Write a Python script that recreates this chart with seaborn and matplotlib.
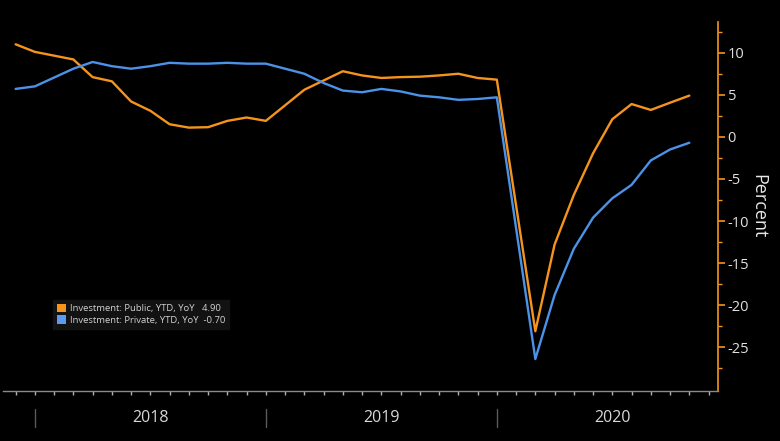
import matplotlib
matplotlib.use("Agg")
import matplotlib.pyplot as plt
import matplotlib.transforms as mtransforms
from matplotlib.patches import Patch
import seaborn as sns
import pandas as pd
import numpy as np

# ---- data (YTD YoY, %) ----
dates = ["2017-11", "2017-12",
         "2018-02", "2018-03", "2018-04", "2018-05", "2018-06", "2018-07",
         "2018-08", "2018-09", "2018-10", "2018-11", "2018-12",
         "2019-02", "2019-03", "2019-04", "2019-05", "2019-06", "2019-07",
         "2019-08", "2019-09", "2019-10", "2019-11", "2019-12",
         "2020-02", "2020-03", "2020-04", "2020-05", "2020-06", "2020-07",
         "2020-08", "2020-09", "2020-10"]
public = [11.0, 10.1,
          9.2, 7.1, 6.6, 4.2, 3.1, 1.5, 1.1, 1.15, 1.9, 2.3, 1.9,
          5.6, 6.7, 7.8, 7.3, 7.0, 7.1, 7.15, 7.3, 7.5, 7.0, 6.8,
          -23.1, -12.8, -6.9, -1.95, 2.1, 3.9, 3.2, 4.06, 4.9]
private = [5.7, 6.0,
           8.1, 8.9, 8.4, 8.1, 8.4, 8.8, 8.7, 8.7, 8.8, 8.7, 8.7,
           7.5, 6.4, 5.5, 5.3, 5.7, 5.4, 4.9, 4.7, 4.4, 4.5, 4.7,
           -26.4, -18.8, -13.3, -9.6, -7.3, -5.7, -2.8, -1.5, -0.7]
series_names = ["Investment: Public, YTD, YoY", "Investment: Private, YTD, YoY"]
last_values = ["4.90", "-0.70"]
years = ["2018", "2019", "2020"]
y_ticks = [-25, -20, -15, -10, -5, 0, 5, 10]

ORANGE = "#f5941d"
BLUE = "#4b92e8"

dt = pd.to_datetime(dates)
t = (dt.year - 2017) * 12 + dt.month - 12  # months since end of Dec 2017

df = pd.concat([
    pd.DataFrame({"t": t, "value": public, "series": series_names[0]}),
    pd.DataFrame({"t": t, "value": private, "series": series_names[1]}),
])

sns.set_theme(style="dark")
plt.rcParams["font.family"] = ["Open Sans", "DejaVu Sans"]
plt.rcParams["axes.unicode_minus"] = False

fig = plt.figure(figsize=(7.8, 4.41), dpi=100, facecolor="black")
ax = fig.add_axes([3.3 / 780, 1 - 391 / 441, (718 - 3.3) / 780, (391 - 22) / 441])
ax.set_facecolor("black")

sns.lineplot(data=df, x="t", y="value", hue="series",
             palette=[ORANGE, BLUE], linewidth=1.7, ax=ax, legend=False,
             sort=False, estimator=None)

ax.set_xlim(-1.64, 35.49)
ax.set_ylim(-30.2, 13.65)
ax.grid(False)

for s in ["left", "top"]:
    ax.spines[s].set_visible(False)
ax.spines["right"].set_visible(True)
ax.spines["right"].set_color(ORANGE)
ax.spines["right"].set_linewidth(1.2)
ax.spines["bottom"].set_visible(True)
ax.spines["bottom"].set_color("#8a8a8a")
ax.spines["bottom"].set_linewidth(1.0)

# y axis on the right
ax.yaxis.tick_right()
ax.yaxis.set_label_position("right")
ax.set_yticks(y_ticks)
ax.set_yticklabels([str(v) for v in y_ticks])
ax.set_yticks(np.arange(-27.5, 13, 5), minor=True)
ax.tick_params(axis="y", which="major", direction="out", length=5, width=1.2,
               color=ORANGE, labelcolor="#e0e0e0", labelsize=10.5, pad=2,
               right=True, left=False)
ax.tick_params(axis="y", which="minor", direction="out", length=3, width=1,
               color=ORANGE, right=True, left=False)
ax.set_ylabel("Percent", color="#e8e8e8", fontsize=13, rotation=270, labelpad=13)

# x axis month ticks
ax.set_xticks(np.arange(-1, 36, 1))
ax.set_xticklabels([])
ax.tick_params(axis="x", which="major", direction="out", length=3, width=1,
               color="#b0b0b0", bottom=True)
ax.set_xlabel("")

# year separators and labels below the axis
trans = mtransforms.blended_transform_factory(ax.transData, ax.transAxes)
ax_h = 391 - 22
for i, yr in enumerate(years):
    x0 = 12 * i
    ax.plot([x0, x0], [-(409 - 391) / ax_h, -(427 - 391) / ax_h],
            transform=trans, clip_on=False, color="#5a5a5a", linewidth=1)
    ax.text(x0 + 6, -(418 - 391) / ax_h, yr, transform=trans, ha="center",
            va="center", color="#d8d8d8", fontsize=11.5)

# legend
handles = [Patch(facecolor=ORANGE, edgecolor="none"),
           Patch(facecolor="#5a9bf0", edgecolor="none")]
labels = [f"{series_names[0]}   {last_values[0]}",
          f"{series_names[1]}  {last_values[1]}"]
leg = ax.legend(handles, labels, loc="upper left",
                bbox_to_anchor=(53 / 780, 1 - 300 / 441),
                bbox_transform=fig.transFigure, fontsize=6.8,
                frameon=True, fancybox=False, framealpha=1,
                facecolor="#121212", edgecolor="#121212",
                handlelength=0.95, handleheight=0.95, handletextpad=0.45,
                labelspacing=0.25, borderpad=0.4, borderaxespad=0)
for txt in leg.get_texts():
    txt.set_color("#d0d0d0")

fig.savefig("out.png", dpi=100, facecolor="black")
